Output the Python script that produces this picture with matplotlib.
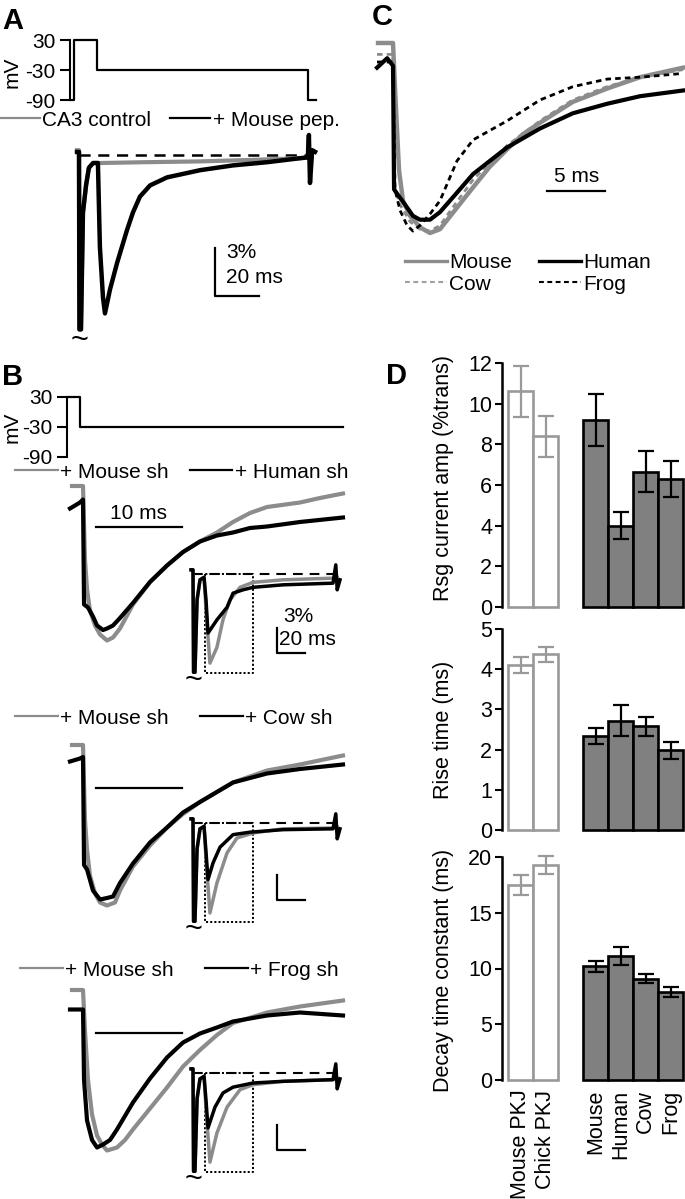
import numpy as np
import matplotlib
matplotlib.use('Agg')
import matplotlib.pyplot as plt
from matplotlib.lines import Line2D

plt.rcParams['font.family'] = ['Liberation Sans', 'DejaVu Sans']
plt.rcParams['lines.scale_dashes'] = False
FS = 15
W, H = 685, 1199
GRAY = '#8c8c8c'
BAR_GRAY = '#808080'
EDGE_GRAY = '#999999'

# ---------------- data ----------------
volt_ticks = [-90, -30, 30]
volt_ticklabels = ['-90', '-30', '30']

# Panel A voltage protocol (ms, mV)
protA_t = [-1.4, 0, 0, 10.5, 10.5, 106.4, 106.4, 110]
protA_v = [-90, -90, 30, 30, -30, -30, -90, -90]
# Panel A currents (ms, % of transient)
A_t_gray = [-0.9, 0.0, 0.2, 0.9, 1.8, 3.2, 4.5, 6.4, 10, 30, 55, 80, 100.5, 104, 105.5]
A_i_gray = [0.3, 0.3, -10.9, -10.9, -3.6, -1.9, -0.8, -0.5, -0.5, -0.45, -0.4, -0.3, -0.2, -0.15, 0.2]
A_t_black = [-0.9, 0.0, 0.2, 0.9, 1.8, 3.2, 4.5, 6.4, 8.6, 9.5, 10.9, 11.8, 14.1, 17.3, 21.8, 24.5,
             27.7, 32.3, 40.0, 55.0, 70.0, 85.5, 100.5, 104.0, 104.5, 105.0, 106.0, 107.3]
A_i_black = [0.19, 0.19, -10.9, -10.9, -3.6, -1.9, -0.8, -0.5, -0.5, -5.75, -8.9, -9.9, -8.4, -6.75,
             -4.7, -3.6, -2.6, -1.9, -1.4, -0.95, -0.65, -0.45, -0.2, -0.15, 1.25, -1.75, 0.3, 0.2]
A_baseline_t = [0, 105]
A_scale_t, A_scale_i = 61.8, -5.8   # scale bar corner
A_scale_len_t, A_scale_len_i = 20, 3

# Panel B voltage protocol
protB_t = [-1.4, 0, 0, 30.6]
protB_v = [30, 30, -30, -30]

# Panel B main traces (ms, normalized current)
B_t_gray = [
    [-1.28, 0, 0.23, 0.47, 0.81, 1.40, 1.98, 2.79, 3.49, 4.30, 5.81, 7.79, 9.77, 11.63, 13.60, 15.58, 17.44, 19.42, 21.40, 25.23, 27.56, 30.23],
    [-1.28, 0, 0.23, 0.47, 0.81, 1.40, 1.98, 2.79, 3.72, 4.30, 5.81, 7.79, 9.77, 11.63, 13.60, 17.44, 21.40, 25.23, 30.23],
    [-1.28, 0, 0.23, 0.58, 1.05, 1.63, 2.21, 2.79, 3.95, 4.88, 5.81, 7.79, 9.77, 11.63, 13.60, 15.58, 17.44, 21.40, 25.23, 30.23],
]
B_i_gray = [
    [0, 0, -0.49, -0.69, -0.83, -0.93, -0.99, -1.03, -1.01, -0.95, -0.79, -0.64, -0.53, -0.44, -0.37, -0.31, -0.24, -0.18, -0.14, -0.11, -0.08, -0.05],
    [0, 0, -0.5, -0.7, -0.87, -0.99, -1.05, -1.07, -1.05, -0.97, -0.81, -0.67, -0.55, -0.46, -0.38, -0.25, -0.17, -0.13, -0.07],
    [0, 0, -0.27, -0.6, -0.83, -0.97, -1.03, -1.07, -1.05, -1.0, -0.93, -0.79, -0.65, -0.51, -0.4, -0.3, -0.22, -0.15, -0.11, -0.07],
]
B_t_black = [
    [-1.51, -0.35, 0, 0.12, 0.58, 1.16, 1.63, 2.33, 2.79, 3.49, 4.30, 5.81, 7.79, 9.77, 11.63, 13.60, 15.58, 17.44, 19.42, 21.40, 25.23, 30.23],
    [-1.51, -0.35, 0, 0.12, 0.47, 1.16, 1.98, 2.79, 3.49, 4.30, 5.81, 7.79, 9.77, 11.63, 13.60, 17.44, 21.40, 25.23, 30.23],
    [-1.51, -0.35, 0, 0.12, 0.47, 1.05, 1.63, 2.33, 3.14, 3.95, 5.81, 7.79, 9.77, 11.63, 13.60, 15.58, 17.44, 21.40, 25.23, 30.23],
]
B_i_black = [
    [-0.15, -0.11, -0.09, -0.79, -0.81, -0.87, -0.93, -0.96, -0.95, -0.93, -0.88, -0.78, -0.64, -0.53, -0.44, -0.37, -0.33, -0.31, -0.28, -0.27, -0.24, -0.21],
    [-0.11, -0.09, -0.08, -0.8, -0.83, -0.97, -1.03, -1.02, -1.01, -0.92, -0.79, -0.65, -0.55, -0.45, -0.38, -0.25, -0.19, -0.16, -0.13],
    [-0.13, -0.13, -0.13, -0.6, -0.87, -1.0, -1.05, -1.03, -1.0, -0.93, -0.75, -0.59, -0.45, -0.35, -0.29, -0.25, -0.21, -0.17, -0.15, -0.17],
]
B_bar_t, B_bar_len = 1.51, 10
B_bar_i = [-0.273, -0.287, -0.287]

# Panel B insets (ms, % of transient)
Bi_t_gray = [
    [-1.4, 0.0, 0.4, 1.4, 2.9, 5.0, 7.9, 9.3, 12.1, 17.1, 21.4, 26.4, 33.6, 42.9, 64.3, 100.0, 103.0],
    [-1.4, 0.0, 0.4, 1.4, 2.9, 5.0, 7.9, 9.3, 12.1, 17.1, 24.3, 31.4, 42.9, 64.3, 100.0, 103.0],
    [-1.4, 0.0, 0.4, 1.4, 2.9, 5.0, 7.9, 9.3, 12.1, 17.1, 24.3, 33.6, 42.9, 64.3, 100.0, 103.0],
]
Bi_i_gray = [
    [0.5, 0.5, -11.8, -11.8, -3.1, -0.7, -0.4, -4.3, -10.7, -8.8, -5.5, -3.1, -1.6, -1.0, -0.7, -0.5, -0.4],
    [0.5, 0.5, -11.8, -11.8, -3.1, -0.7, -0.4, -4.3, -10.8, -7.2, -3.6, -1.8, -1.2, -0.7, -0.6, -0.5],
    [0.5, 0.5, -11.8, -11.8, -3.1, -0.7, -0.4, -4.3, -10.7, -7.2, -4.1, -2.0, -1.4, -1.0, -0.8, -0.7],
]
Bi_t_black = [
    [-1.4, 0.0, 0.4, 1.4, 2.9, 5.0, 7.9, 9.3, 10.7, 17.1, 24.3, 28.6, 35.7, 42.9, 64.3, 100.0, 102.0, 103.0, 105.0],
    [-1.4, 0.0, 0.4, 1.4, 2.9, 5.0, 7.9, 9.3, 10.7, 14.3, 19.3, 28.6, 40.7, 64.3, 100.0, 102.0, 103.0, 105.0],
    [-1.4, 0.0, 0.4, 1.4, 2.9, 5.0, 7.9, 9.3, 10.7, 15.7, 21.4, 28.6, 42.9, 64.3, 100.0, 102.0, 103.0, 105.0],
]
Bi_i_black = [
    [0.5, 0.5, -11.8, -11.8, -3.1, -0.7, -0.4, -3.1, -7.1, -5.5, -4.0, -2.3, -1.9, -1.6, -1.3, -1.1, 1.1, -1.9, -0.7],
    [0.5, 0.5, -11.8, -11.8, -3.1, -0.7, -0.4, -3.5, -6.8, -4.8, -2.9, -1.4, -1.1, -0.8, -0.7, 1.1, -1.9, -0.7],
    [0.5, 0.5, -11.8, -11.8, -3.1, -0.7, -0.4, -3.3, -6.6, -4.1, -2.4, -1.7, -1.2, -1.0, -0.8, 1.1, -1.9, -0.7],
]
Bi_baseline_t = [0, 105]
Bi_box_t = [8.6, 42.9]
Bi_box_i = [0, -11.9]
Bi_scale_t = 60
Bi_scale_i = [-6.5, -6.3, -6.3]

# Panel C (ms, normalized current)
C_t_mouse = [-1.29, 0, 0.26, 0.52, 0.86, 1.47, 2.33, 3.19, 4.05, 5.34, 6.9, 8.36, 9.83, 11.2, 12.67, 15.5, 18.45, 21.3, 25.0]
C_i_mouse = [0, 0, -0.35, -0.67, -0.83, -0.91, -0.97, -1.0, -0.98, -0.88, -0.76, -0.65, -0.56, -0.48, -0.42, -0.31, -0.24, -0.18, -0.13]
C_t_human = [-1.38, -0.5, 0, 0.09, 0.43, 1.03, 1.72, 2.33, 3.19, 4.05, 5.34, 6.9, 8.36, 9.83, 12.67, 15.5, 18.45, 21.3, 25.0]
C_i_human = [-0.13, -0.08, -0.12, -0.77, -0.8, -0.85, -0.91, -0.93, -0.93, -0.89, -0.8, -0.69, -0.62, -0.55, -0.45, -0.37, -0.32, -0.28, -0.25]
C_t_cow = [-1.38, 0, 0.17, 0.6, 1.47, 2.33, 3.19, 4.05, 5.34, 6.9, 9.83, 12.67, 15.5, 18.45, 21.3, 25.0]
C_i_cow = [-0.06, -0.06, -0.77, -0.85, -0.94, -0.98, -0.99, -0.96, -0.85, -0.72, -0.54, -0.41, -0.3, -0.23, -0.18, -0.14]
C_t_frog = [-1.38, 0, 0.17, 0.6, 1.21, 1.72, 2.33, 3.19, 4.05, 5.52, 6.9, 9.83, 12.67, 15.5, 18.45, 21.3, 25.0]
C_i_frog = [-0.1, -0.1, -0.77, -0.88, -0.96, -0.99, -0.96, -0.9, -0.83, -0.62, -0.51, -0.41, -0.3, -0.23, -0.19, -0.18, -0.16]
C_bar_t, C_bar_i, C_bar_len = 13.3, -0.78, 5

# Panel D bar data
pkj_labels = ['Mouse PKJ', 'Chick PKJ']
species_labels = ['Mouse', 'Human', 'Cow', 'Frog']
amp_pkj, amp_pkj_err = [10.6, 8.4], [1.25, 1.0]
amp_sp, amp_sp_err = [9.2, 4.0, 6.65, 6.3], [1.3, 0.65, 1.0, 0.9]
rise_pkj, rise_pkj_err = [4.1, 4.37], [0.2, 0.19]
rise_sp, rise_sp_err = [2.33, 2.72, 2.58, 1.98], [0.2, 0.38, 0.24, 0.21]
decay_pkj, decay_pkj_err = [17.5, 19.3], [0.9, 0.8]
decay_sp, decay_sp_err = [10.2, 11.1, 9.1, 7.85], [0.5, 0.8, 0.4, 0.45]

# ---------------- drawing ----------------
fig = plt.figure(figsize=(W / 100, H / 100), dpi=100)


def px_axes(left, top, right, bottom):
    ax = fig.add_axes([left / W, 1 - bottom / H, (right - left) / W, (bottom - top) / H])
    ax.patch.set_alpha(0)
    return ax


def trace_axes(left, top, right, bottom, x0, xs, y0, ys):
    ax = px_axes(left, top, right, bottom)
    ax.set_xlim((left - x0) / xs, (right - x0) / xs)
    ax.set_ylim((y0 - bottom) / ys, (y0 - top) / ys)
    ax.axis('off')
    return ax


def volt_axes(left, top, right, bottom, x0, xs, y0, ys, mv_y):
    ax = px_axes(left, top, right, bottom)
    ax.set_xlim((left - x0) / xs, (right - x0) / xs)
    ax.set_ylim((y0 - bottom) / ys, (y0 - top) / ys)
    for s in ['top', 'right', 'bottom']:
        ax.spines[s].set_visible(False)
    ax.spines['left'].set_bounds(-90, 30)
    ax.spines['left'].set_linewidth(1.5)
    ax.set_xticks([])
    ax.set_yticks(volt_ticks)
    ax.set_yticklabels(volt_ticklabels)
    ax.tick_params(axis='y', length=7.5, width=1.5, labelsize=FS, pad=3)
    ax.set_ylabel('mV', fontsize=FS, va='center')
    ax.yaxis.set_label_coords((12 - left) / (right - left), (bottom - mv_y) / (bottom - top))
    return ax


def make_legend(ax, labels, styles, x_px, y_px, hl, cs, ncol=2, loc='center left', ls=0.5):
    handles = [Line2D([], [], **s) for s in styles]
    leg = ax.legend(handles, labels, loc=loc, bbox_to_anchor=(x_px / W, 1 - y_px / H),
                    bbox_transform=fig.transFigure, ncol=ncol, frameon=False, borderpad=0,
                    borderaxespad=0, handlelength=hl, handletextpad=0.12, columnspacing=cs,
                    fontsize=FS, labelspacing=ls)
    return leg


def panel_label(x, y, s):
    fig.text(x / W, 1 - y / H, s, fontsize=21, fontweight='bold', ha='left', va='baseline')


TILDE_FS = 22

# ---- Panel A ----
panel_label(2, 29, 'A')
axAp = volt_axes(70, 30, 330, 110, 74, 2.2, 55, 0.5, 72)
axAp.plot(protA_t, protA_v, color='black', lw=1.6, clip_on=False)

axA = trace_axes(60, 120, 330, 360, 79, 2.2, 155, 16)
axA.plot(A_baseline_t, [0, 0], color='black', lw=1.8, dashes=(8, 5.5))
axA.plot(A_t_gray, A_i_gray, color=GRAY, lw=3.0, solid_joinstyle='round')
axA.plot(A_t_black, A_i_black, color='black', lw=3.2, solid_joinstyle='round')
axA.plot([A_scale_t, A_scale_t, A_scale_t + A_scale_len_t],
         [A_scale_i, A_scale_i - A_scale_len_i, A_scale_i - A_scale_len_i], color='black', lw=1.6)
axA.text(66.8, -6.44, '3%', fontsize=FS, ha='left', va='baseline')
axA.text(66.8, -8.0, '20 ms', fontsize=FS, ha='left', va='baseline')
axA.text(0.45, -11.6, '~', fontsize=TILDE_FS, ha='center', va='center')
make_legend(axA, ['CA3 control', '+ Mouse pep.'],
            [dict(color=GRAY, lw=1.6), dict(color='black', lw=1.6)], 0, 120, 1.92, 0.9)

# ---- Panel B ----
panel_label(2, 385, 'B')
axBp = volt_axes(67, 387, 350, 467, 80, 8.6, 412, 0.5, 427)
axBp.plot(protB_t, protB_v, color='black', lw=1.6, clip_on=False)

B_main_y0 = [486, 745, 990]
B_inset_y0 = [574, 823, 1073]
B_leg_y = [472, 718, 970]
B_leg_x = [15, 15, 20]
B_leg_cs = [1.0, 1.5, 1.5]
B_names = ['+ Human sh', '+ Cow sh', '+ Frog sh']
for k in range(3):
    y0 = B_main_y0[k]
    ax = trace_axes(55, y0 - 20, 350, y0 + 190, 83, 8.6, y0, 150)
    ax.plot(B_t_gray[k], B_i_gray[k], color=GRAY, lw=3.0, solid_joinstyle='round')
    ax.plot(B_t_black[k], B_i_black[k], color='black', lw=3.0, solid_joinstyle='round')
    ax.plot([B_bar_t, B_bar_t + B_bar_len], [B_bar_i[k]] * 2, color='black', lw=1.6)
    if k == 0:
        ax.text(B_bar_t + B_bar_len / 2, -0.22, '10 ms', fontsize=FS, ha='center', va='baseline')
    make_legend(ax, ['+ Mouse sh', B_names[k]],
                [dict(color=GRAY, lw=1.6), dict(color='black', lw=1.6)],
                B_leg_x[k], B_leg_y[k], 2.05, B_leg_cs[k])

    yi = B_inset_y0[k]
    axi = trace_axes(185, yi - 20, 350, yi + 125, 193, 1.4, yi, 8.33)
    axi.plot(Bi_baseline_t, [0, 0], color='black', lw=1.5, dashes=(7, 5))
    bt, bi = Bi_box_t, Bi_box_i
    axi.plot([bt[0], bt[0], bt[1], bt[1], bt[0]], [bi[0], bi[1], bi[1], bi[0], bi[0]],
             color='black', lw=1.4, dashes=(1.5, 1.5))
    axi.plot(Bi_t_gray[k], Bi_i_gray[k], color=GRAY, lw=2.5, solid_joinstyle='round')
    axi.plot(Bi_t_black[k], Bi_i_black[k], color='black', lw=2.5, solid_joinstyle='round')
    si = Bi_scale_i[k]
    axi.plot([Bi_scale_t, Bi_scale_t, Bi_scale_t + 20], [si, si - 3, si - 3], color='black', lw=1.6)
    axi.text(0.2, -12.9, '~', fontsize=TILDE_FS, ha='center', va='center')
    if k == 0:
        axi.text(64.3, -5.76, '3%', fontsize=FS, ha='left', va='baseline')
        axi.text(61.5, -8.52, '20 ms', fontsize=FS, ha='left', va='baseline')

# ---- Panel C ----
panel_label(372, 25, 'C')
axC = trace_axes(370, 30, 685, 250, 393, 11.6, 43, 190)
axC.plot(C_t_cow, C_i_cow, color=GRAY, lw=2.0, dashes=(4, 3))
axC.plot(C_t_mouse, C_i_mouse, color=GRAY, lw=3.2, solid_joinstyle='round')
axC.plot(C_t_human, C_i_human, color='black', lw=3.0, solid_joinstyle='round')
axC.plot(C_t_frog, C_i_frog, color='black', lw=2.0, dashes=(4, 3))
axC.plot([C_bar_t, C_bar_t + C_bar_len], [C_bar_i, C_bar_i], color='black', lw=1.6)
axC.text(C_bar_t + C_bar_len / 2, -0.73, '5 ms', fontsize=FS, ha='center', va='baseline')
make_legend(axC, ['Mouse', 'Cow', 'Human', 'Frog'],
            [dict(color=GRAY, lw=2.4), dict(color='#a0a0a0', lw=1.5, dashes=(3.5, 2.5)),
             dict(color='black', lw=2.4), dict(color='black', lw=1.5, dashes=(3.5, 2.5))],
            405, 253, 2.0, 1.3, ncol=2, loc='upper left', ls=0.12)

# ---- Panel D ----
panel_label(386, 384, 'D')
pos_pkj = np.arange(len(pkj_labels))
pos_sp = np.arange(len(species_labels)) + len(pkj_labels) + 1


def bar_panel(top, bottom, ymax, ticks, pv, pe, sv, se, ylabel, lab_y, show_x):
    ax = px_axes(502, top, 685, bottom)
    ax.set_xlim(-0.74, 6.58)
    ax.set_ylim(0, ymax)
    ax.bar(pos_pkj, pv, width=1, color='white', edgecolor=EDGE_GRAY, linewidth=1.9,
           clip_on=False, zorder=2)
    ax.bar(pos_sp, sv, width=1, color=BAR_GRAY, edgecolor='black', linewidth=1.9,
           clip_on=False, zorder=2)
    for p, v, e, c in [(pos_pkj, pv, pe, EDGE_GRAY), (pos_sp, sv, se, 'black')]:
        cont = ax.errorbar(p, v, yerr=e, fmt='none', ecolor=c, elinewidth=1.6, capsize=5.5,
                           capthick=1.6, zorder=3)
        for art in cont.get_children():
            art.set_clip_on(False)
    for s in ['top', 'right', 'bottom']:
        ax.spines[s].set_visible(False)
    ax.spines['left'].set_linewidth(1.8)
    ax.set_yticks(ticks)
    ax.tick_params(axis='y', length=5, width=1.5, labelsize=15.5, pad=2)
    ax.set_ylabel(ylabel, fontsize=15.5, va='center')
    ax.yaxis.set_label_coords((443 - 502) / (685 - 502), lab_y)
    if show_x:
        ax.set_xticks(list(pos_pkj) + list(pos_sp))
        ax.set_xticklabels(pkj_labels + species_labels, rotation=90, fontsize=15.5)
        ax.tick_params(axis='x', length=0, pad=7)
    else:
        ax.set_xticks([])
    return ax


bar_panel(363, 607, 12, [0, 2, 4, 6, 8, 10, 12], amp_pkj, amp_pkj_err, amp_sp, amp_sp_err,
          'Rsg current amp (%trans)', 0.53, False)
bar_panel(629, 830, 5, [0, 1, 2, 3, 4, 5], rise_pkj, rise_pkj_err, rise_sp, rise_sp_err,
          'Rise time (ms)', 0.5, False)
bar_panel(857, 1080, 20, [0, 5, 10, 15, 20], decay_pkj, decay_pkj_err, decay_sp, decay_sp_err,
          'Decay time constant (ms)', 0.49, True)

fig.savefig('out.png', dpi=100)
